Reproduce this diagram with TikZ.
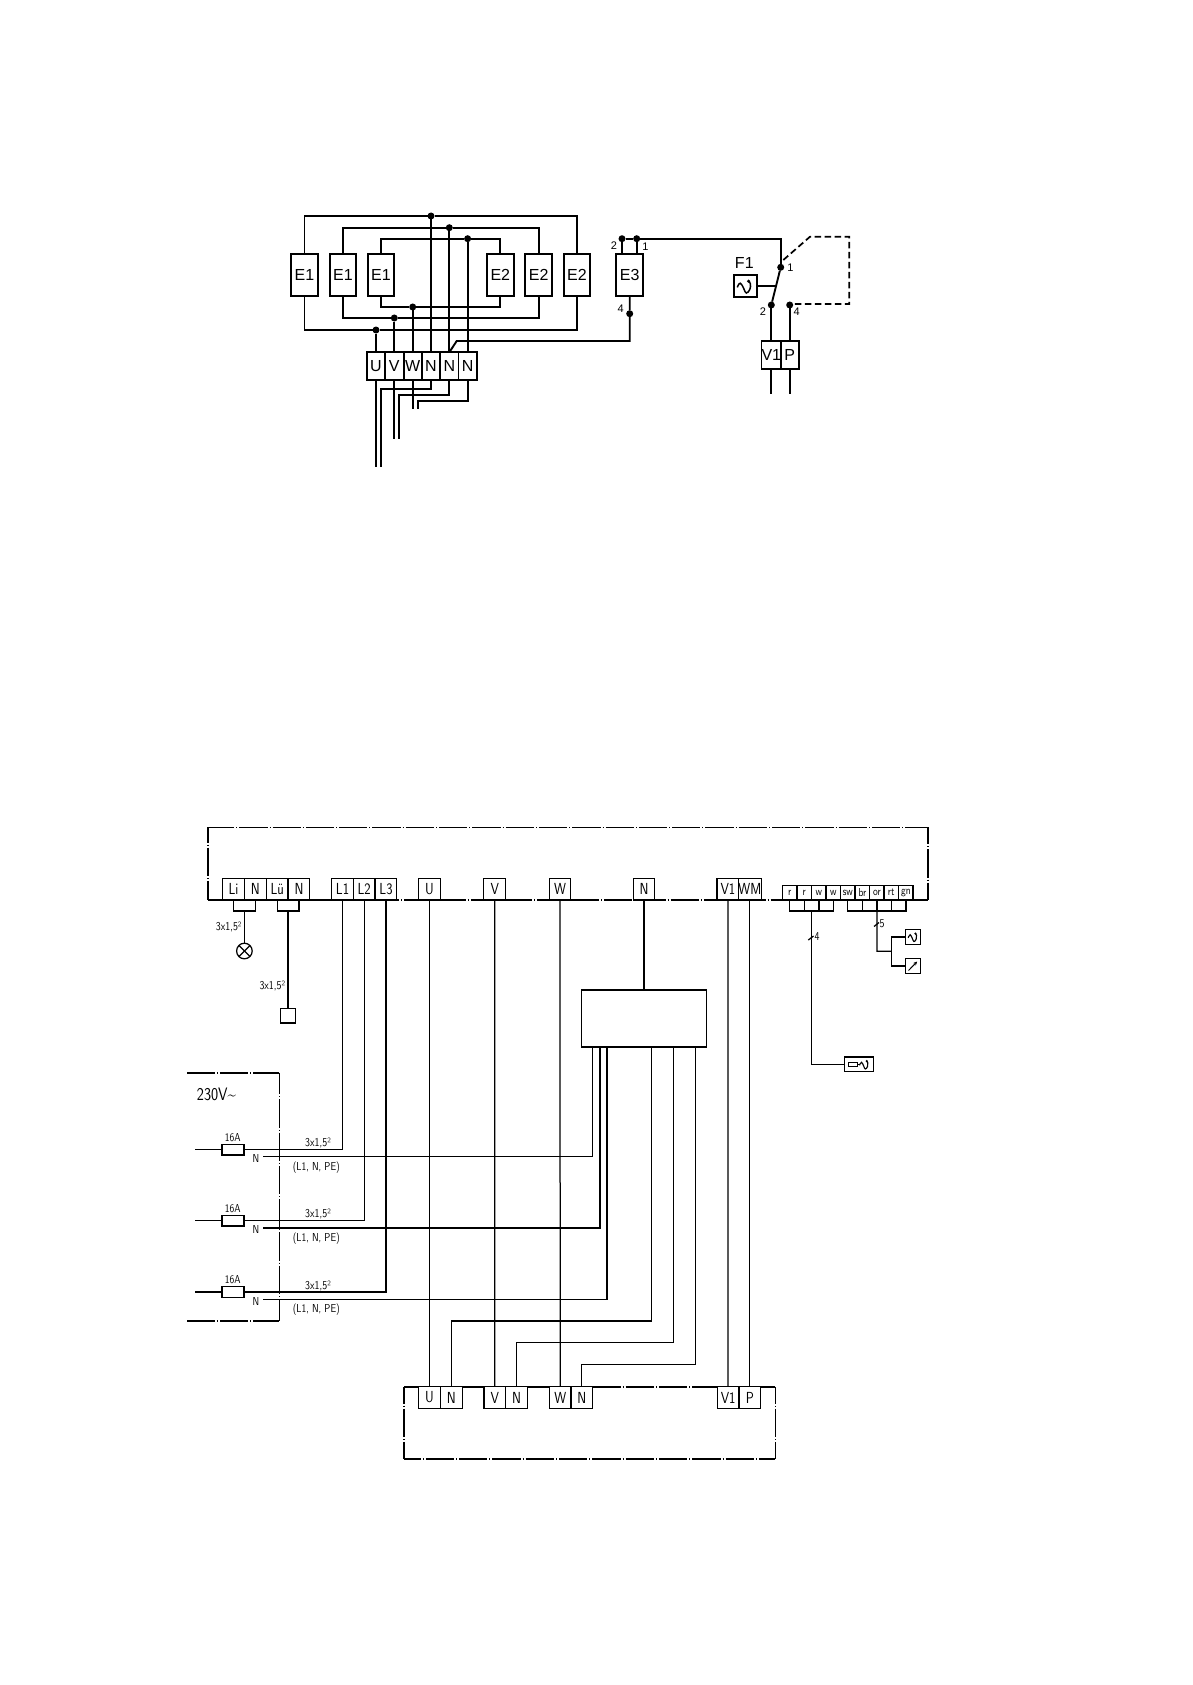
\documentclass[tikz,border=0pt]{standalone}
\usepackage{fontspec}
\usetikzlibrary{arrows.meta}
\setmainfont{Liberation Sans}
\setsansfont[FakeStretch=0.84]{Latin Modern Sans}
\tikzset{
  heavy/.style={line width=1.9pt},
  med/.style={line width=1.25pt},
  framedash/.style={line width=1.6pt,dash pattern=on 28.3pt off 2pt on 1pt off 2pt,dash phase=#1pt},
  ebox/.style={draw,line width=1.9pt,fill=white,minimum width=26.7pt,minimum height=42pt,inner sep=0pt,outer sep=0pt,font=\fontsize{16}{16}\selectfont},
  tbox/.style={draw,line width=1.9pt,fill=white,minimum width=18.3pt,minimum height=28pt,inner sep=0pt,outer sep=0pt,font=\fontsize{16}{16}\selectfont},
  sbox/.style={draw,line width=1.25pt,fill=white,minimum width=21.7pt,minimum height=21.7pt,inner sep=0pt,outer sep=0pt,font=\sffamily\fontsize{16}{16}\selectfont},
  ssbox/.style={draw,line width=1.25pt,fill=white,minimum width=14.4pt,minimum height=14.7pt,inner sep=0pt,outer sep=0pt,font=\sffamily\fontsize{11.5}{12}\selectfont},
  iconbox/.style={draw,line width=1.25pt,fill=white,minimum width=14.6pt,minimum height=14.6pt,inner sep=0pt,outer sep=0pt},
  fusebox/.style={draw,line width=1.25pt,fill=white,minimum width=22pt,minimum height=10.7pt,inner sep=0pt,outer sep=0pt},
  lab/.style={inner sep=0pt,font=\fontsize{11}{11}\selectfont},
  tlab/.style={inner sep=0pt,font=\sffamily\fontsize{12}{12}\selectfont},
  slab/.style={inner sep=0pt,font=\sffamily\fontsize{11.5}{12}\selectfont},
  jdot/.style={circle,fill=black,minimum size=7pt,inner sep=0pt,outer sep=0pt},
}
\newcommand{\wavesym}[2]{%
  \draw[line width=1.5pt,shift={(#1,#2)}] plot[smooth,tension=0.8] coordinates {(-8,1.2) (-5,-3) (-1.5,2.5) (1,6.8) (4.6,3) (5,-2.5) (3.5,-5)};
  \fill[shift={(#1,#2)}] (3.2,-5) circle (1.7pt);}
\newcommand{\smallwave}[2]{%
  \draw[line width=1.15pt,shift={(#1,#2)}] plot[smooth,tension=0.8] coordinates {(-5,0.8) (-3,-2.2) (-0.8,1.6) (0.8,4.5) (3,2) (3.3,-1.8) (2.3,-3.3)};
  \fill[shift={(#1,#2)}] (2.2,-3.4) circle (1.2pt);}
\begin{document}
\begin{tikzpicture}[x=1pt,y=-1pt,line join=miter]
\useasboundingbox (0,0) rectangle (1192,1685);
\fill[white] (0,0) rectangle (1192,1685);

% ---------- upper diagram: nodes ----------
\node[ebox] (e1a) at (304.5,275) {E1};
\node[ebox] (e1b) at (343,275) {E1};
\node[ebox] (e1c) at (381,275) {E1};
\node[ebox] (e2a) at (500.3,275) {E2};
\node[ebox] (e2b) at (538.7,275) {E2};
\node[ebox] (e2c) at (577,275) {E2};
\node[ebox] (e3) at (629.7,275) {E3};
\node[tbox] (tU) at (376,366.3) {U};
\node[tbox] (tV) at (394.3,366.3) {V};
\node[tbox] (tW) at (412.7,366.3) {W};
\node[tbox] (tN1) at (431,366.3) {N};
\node[tbox] (tN2) at (449.3,366.3) {N};
\node[tbox] (tN3) at (467.6,366.3) {N};
\node[jdot] (d1) at (431,216) {};
\node[jdot] (d2) at (449.3,227.7) {};
\node[jdot] (d3) at (467.6,238.7) {};
\node[jdot] (d4) at (376,330) {};
\node[jdot] (d5) at (394.3,318) {};
\node[jdot] (d6) at (412.7,307) {};
\node[jdot] (d7) at (622,238.7) {};
\node[jdot] (d8) at (636.7,238.7) {};
\node[jdot] (d9) at (629.7,313.7) {};
\node[jdot] (s1) at (780.7,267.3) {};
\node[jdot] (s2) at (771.3,305) {};
\node[jdot] (s4) at (789.7,305) {};
\node[tbox,minimum height=27.7pt] (tV1) at (771.3,355.2) {V1};
\node[tbox,minimum height=27.7pt] (tP) at (789.7,355.2) {P};
\node[draw,line width=1.9pt,fill=white,minimum width=22.7pt,minimum height=22.3pt,inner sep=0pt,outer sep=0pt] (f1) at (745.3,286.2) {};
\wavesym{745.3}{286.2}
\node[inner sep=0pt,font=\fontsize{16}{16}\selectfont] (f1l) at (744.3,263.3) {F1};
\node[lab] (n2) at (614,245.7) {2};
\node[lab] (n1) at (645.3,246.7) {1};
\node[lab] (n4) at (620.7,308.7) {4};
\node[lab] (m1) at (790.3,268) {1};
\node[lab] (m2) at (763,311.7) {2};
\node[lab] (m4) at (796.7,311.7) {4};

% ---------- upper diagram: connectors ----------
\begin{scope}[heavy]
\draw (e1a.north) |- (d1) -| (e2c.north);
\draw (e1b.north) |- (d2) -| (e2b.north);
\draw (e1c.north) |- (d3) -| (e2a.north);
\draw (e1a.south) |- (d4) -| (e2c.south);
\draw (e1b.south) |- (d5) -| (e2b.south);
\draw (e1c.south) |- (d6) -| (e2a.south);
\draw (d1) -- (tN1.north);
\draw (d2) -- (tN2.north);
\draw (d3) -- (tN3.north);
\draw (d4) -- (tU.north);
\draw (d5) -- (tV.north);
\draw (d6) -- (tW.north);
\coordinate (c1) at (456.7,341);
\draw (e3.south) -- (d9) -- (d9 |- c1) -- (c1) -- (tN2.north);
\coordinate (uEnd) at (376,466.7);
\coordinate (n1Bend) at (381.3,389.3);
\coordinate (n1End) at (381.3,466.7);
\coordinate (vEnd) at (394.3,438.7);
\coordinate (n2Bend) at (399.3,395);
\coordinate (n2End) at (399.3,438.7);
\coordinate (wEnd) at (412.7,408.7);
\coordinate (n3Bend) at (418,400.7);
\coordinate (n3End) at (418,408.7);
\draw (tU.south) -- (uEnd);
\draw (tN1.south) |- (n1Bend) -- (n1End);
\draw (tV.south) -- (vEnd);
\draw (tN2.south) |- (n2Bend) -- (n2End);
\draw (tW.south) -- (wEnd);
\draw (tN3.south) |- (n3Bend) -- (n3End);
\draw (d7 |- e3.north) -- (d7);
\draw (d8 |- e3.north) -- (d8);
\draw (d7) -- (d8) -| (s1);
\draw (s1) -- (s2);
\draw (s2) -- (tV1.north);
\draw (s4) -- (tP.north);
\coordinate (vEnd2) at (771.3,394);
\coordinate (pEnd2) at (789.7,394);
\draw (tV1.south) -- (vEnd2);
\draw (tP.south) -- (pEnd2);
\coordinate (swMid) at (775.7,286.2);
\draw[line width=1.5pt] (f1.east) -- (swMid);
\end{scope}
\coordinate (da) at (783.3,260);
\coordinate (db) at (810,236.7);
\coordinate (dc) at (849.3,236.7);
\coordinate (dd) at (849.3,304);
\draw[line width=1.7pt,dash pattern=on 6.5pt off 3.5pt] (da) -- (db) -- (dc) -- (dd) -- (s4 |- dd);

% ---------- lower diagram: frames ----------
\coordinate (fTL) at (208,827.3);
\coordinate (fTR) at (927.7,827.3);
\coordinate (fBL) at (208,900);
\coordinate (fBR) at (927.7,900);
\draw[framedash=2.1] (fTL) -- (fTR);
\draw[framedash=13.1] (fTL) -- (fBL);
\draw[framedash=11.4] (fTR) -- (fBR);
\draw[framedash=3.6] (fBL) -- (fBR);

\coordinate (gTL) at (187.3,1072.7);
\coordinate (gTR) at (279.3,1072.7);
\coordinate (gBL) at (187.3,1321);
\coordinate (gBR) at (279.3,1321);
\draw[framedash=0.8] (gTL) -- (gTR);
\draw[framedash=6.8] (gTR) -- (gBR);
\draw[framedash=0.8] (gBL) -- (gBR);

\coordinate (hTL) at (404,1386.7);
\coordinate (hTR) at (775.3,1386.7);
\coordinate (hBL) at (404,1459);
\coordinate (hBR) at (775.3,1459);
\draw[framedash=11.5] (hTL) -- (hTR);
\draw[framedash=11.5] (hBL) -- (hBR);
\draw[framedash=11.5] (hTL) -- (hBL);
\draw[framedash=11.5] (hTR) -- (hBR);

% ---------- lower diagram: upper terminals ----------
\node[sbox] (Li) at (233.5,889.2) {Li};
\node[sbox] (N1) at (255.3,889.2) {N};
\node[sbox] (Lu) at (277.2,889.2) {Lü};
\node[sbox] (N2) at (299,889.2) {N};
\node[sbox] (L1) at (342.5,889.2) {L1};
\node[sbox] (L2) at (364.2,889.2) {L2};
\node[sbox] (L3) at (386,889.2) {L3};
\node[sbox] (U) at (429.5,889.2) {U};
\node[sbox] (V) at (494.7,889.2) {V};
\node[sbox] (W) at (560,889.2) {W};
\node[sbox] (N) at (644,889.2) {N};
\node[sbox] (V1) at (727.9,889.2) {V1};
\node[sbox] (WM) at (749.8,889.2) {WM};
\node[ssbox] (s1r) at (789.6,892.6) {r};
\node[ssbox] (s2r) at (804.3,892.6) {r};
\node[ssbox] (s3w) at (818.9,892.6) {w};
\node[ssbox] (s4w) at (833.3,892.6) {w};
\node[ssbox] (s5) at (847.8,892.6) {sw};
\node[ssbox] (s6) at (862.4,892.6) {br};
\node[ssbox] (s7) at (876.9,892.6) {or};
\node[ssbox] (s8) at (891.3,892.6) {rt};
\node[ssbox] (s9) at (905.9,892.6) {gn};

% bottom terminals
\node[sbox] (bU) at (429.5,1397.5) {U};
\node[sbox] (bN1) at (451.3,1397.5) {N};
\node[sbox] (bV) at (494.8,1397.5) {V};
\node[sbox] (bN2) at (516.5,1397.5) {N};
\node[sbox] (bW) at (560.2,1397.5) {W};
\node[sbox] (bN3) at (581.8,1397.5) {N};
\node[sbox] (bV1) at (728.1,1397.5) {V1};
\node[sbox] (bP) at (749.8,1397.5) {P};

% mid box
\node[draw,line width=1.25pt,minimum width=124.6pt,minimum height=57pt,inner sep=0pt,outer sep=0pt] (box) at (644,1018.5) {};

% ---------- lower diagram: connectors ----------
\begin{scope}[med]
\coordinate (b1a) at (233.5,911);
\coordinate (b1b) at (255.3,911);
\coordinate (b2a) at (277.2,911);
\coordinate (b2b) at (299,911);
\draw (Li.south) -- (b1a) -- (b1b) -- (N1.south);
\draw (Lu.south) -- (b2a) -- (b2b) -- (N2.south);
\node[draw,circle,line width=1.25pt,minimum size=15.6pt,inner sep=0pt,outer sep=0pt] (lamp) at (244.4,951) {};
\draw (lamp.north west) -- (lamp.south east);
\draw (lamp.north east) -- (lamp.south west);
\draw (244.4,911) -- (lamp.north);
\node[draw,line width=1.25pt,minimum size=14.6pt,inner sep=0pt,outer sep=0pt] (sq) at (288,1015.8) {};
\draw (288,911) -- (sq.north);

\coordinate (j1) at (342.5,1149.3);
\coordinate (j2) at (364.2,1220.7);
\coordinate (j3) at (386,1292);
\coordinate (i1) at (194.7,1149.3);
\coordinate (i2) at (194.7,1220.7);
\coordinate (i3) at (194.7,1292);
\draw (L1.south) -- (j1) -- (i1);
\draw (L2.south) -- (j2) -- (i2);
\draw (L3.south) -- (j3) -- (i3);
\node[fusebox] (fu1) at (233,1149.6) {};
\node[fusebox] (fu2) at (233,1220.7) {};
\node[fusebox] (fu3) at (233,1292.2) {};

\draw (U.south) -- (bU.north);
\draw (V.south) -- (bV.north);
\draw (W.south) -- (bW.north);
\draw (V1.south) -- (bV1.north);
\draw (WM.south) -- (bP.north);
\draw (N.south) -- (box.north);

\coordinate (o1) at (592.7,1047);
\coordinate (o2) at (600,1047);
\coordinate (o3) at (607,1047);
\coordinate (o4) at (651.7,1047);
\coordinate (o5) at (673.5,1047);
\coordinate (o6) at (695.2,1047);
\coordinate (e1) at (263.3,1156.7);
\coordinate (e2) at (263.3,1228);
\coordinate (e3c) at (263.3,1299.3);
\draw (e1) -| (o1);
\draw (e2) -| (o2);
\draw (e3c) -| (o3);
\coordinate (k1) at (651.7,1321);
\coordinate (k2) at (673.5,1342.7);
\coordinate (k3) at (695.2,1364.7);
\draw (o4) -- (k1) -| (bN1.north);
\draw (o5) -- (k2) -| (bN2.north);
\draw (o6) -- (k3) -| (bN3.north);

% right bus
\coordinate (r1) at (789.6,911);
\coordinate (r2) at (833.3,911);
\draw (s1r.south) -- (r1) -- (r2) -- (s4w.south);
\draw (s2r.south) -- (s2r.south |- r1);
\draw (s3w.south) -- (s3w.south |- r1);
\coordinate (r3) at (847.8,911);
\coordinate (r4) at (905.9,911);
\draw (s5.south) -- (r3) -- (r4) -- (s9.south);
\draw (s6.south) -- (s6.south |- r3);
\draw (s8.south) -- (s8.south |- r3);
\draw (s7.south) -- (s7.south |- r3);
\node[draw,line width=1.25pt,minimum width=29pt,minimum height=14.7pt,inner sep=0pt,outer sep=0pt] (heater) at (858.8,1064.3) {};
\draw (811.4,911) |- (heater.west);
\node[iconbox] (i5a) at (913,937) {};
\node[iconbox] (i5b) at (913,966) {};
\coordinate (q1) at (877,951.3);
\coordinate (q2) at (891.3,951.3);
\draw (s7.south) -- (q1) -- (q2);
\draw (q2) |- (i5a.west);
\draw (q2) |- (i5b.west);
\draw (808.3,940) -- (813.5,936);
\draw (874,926.5) -- (879,922.5);
\end{scope}
% icons
\node[draw,line width=1pt,minimum width=9pt,minimum height=4.4pt,inner sep=0pt,outer sep=0pt] (hfuse) at (852.8,1064.5) {};
\draw[line width=1pt] (hfuse.east) -- (860,1064.5);
\smallwave{864.5}{1064.5}
\smallwave{913.2}{937}
\draw[line width=1pt,-{Stealth[length=4pt,width=3.6pt]}] (908.5,970.5) -- (917.2,961.5);

% ---------- lower diagram: labels ----------
\node[tlab] (la1) at (228.7,926.7) {3x1,5²};
\node[tlab] (la2) at (272.3,986) {3x1,5²};
\node[tlab] (la3) at (318,1142.7) {3x1,5²};
\node[tlab] (la4) at (318,1214) {3x1,5²};
\node[tlab] (la5) at (318,1285.5) {3x1,5²};
\node[slab] (lb1) at (316.3,1167.3) {(L1, N, PE)};
\node[slab] (lb2) at (316.3,1238.7) {(L1, N, PE)};
\node[slab] (lb3) at (316.3,1310) {(L1, N, PE)};
\node[slab] (la6) at (232.7,1137.3) {16A};
\node[slab] (la7) at (232.7,1208.7) {16A};
\node[slab] (la8) at (232.7,1280) {16A};
\node[slab] (ln1) at (256,1158.3) {N};
\node[slab] (ln2) at (256,1229.7) {N};
\node[slab] (ln3) at (256,1301) {N};
\node[inner sep=0pt,anchor=west,font=\sffamily\fontsize{18}{18}\selectfont] (vv) at (196.7,1094) {230V\textasciitilde};
\node[tlab] (t4) at (817,937) {4};
\node[tlab] (t5) at (882,924) {5};
\end{tikzpicture}
\end{document}
